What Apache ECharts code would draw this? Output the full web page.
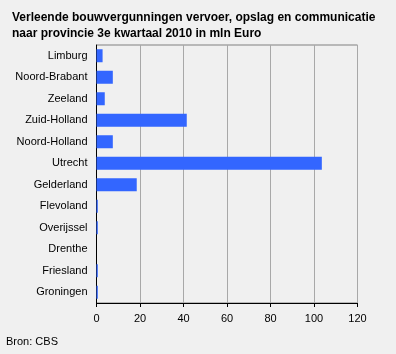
<!DOCTYPE html>
<html>
<head>
<meta charset="utf-8">
<script src="https://cdn.jsdelivr.net/npm/echarts@6/dist/echarts.min.js"></script>
<style>
  html, body { margin: 0; padding: 0; background: #f0f0f0; }
  #chart { width: 396px; height: 354px; }
</style>
</head>
<body>
<div id="chart"></div>
<script>
const provinces = ['Limburg', 'Noord-Brabant', 'Zeeland', 'Zuid-Holland', 'Noord-Holland', 'Utrecht',
  'Gelderland', 'Flevoland', 'Overijssel', 'Drenthe', 'Friesland', 'Groningen'];
const values = [2.8, 7.5, 3.8, 41.5, 7.5, 103.6, 18.5, 0.6, 0.6, 0, 0.6, 0.6];
const xTicks = [0, 20, 40, 60, 80, 100, 120];

const chart = echarts.init(document.getElementById('chart'), null, { renderer: 'canvas' });
const font = 'Arial, "Liberation Sans", sans-serif';

const option = {
  backgroundColor: '#f0f0f0',
  animation: false,
  title: {
    text: 'Verleende bouwvergunningen vervoer, opslag en communicatie\nnaar provincie 3e kwartaal 2010 in mln Euro',
    left: 7,
    top: 5,
    textStyle: { fontFamily: font, fontSize: 12, fontWeight: 'bold', color: '#000', lineHeight: 16 }
  },
  graphic: [{
    type: 'text',
    left: 6,
    top: 336,
    style: { text: 'Bron: CBS', font: '11px ' + font, fill: '#000' }
  }],
  grid: { left: 96.5, right: 38.5, top: 45, bottom: 51, show: true, borderColor: '#808080', borderWidth: 1 },
  xAxis: {
    type: 'value',
    min: xTicks[0],
    max: xTicks[xTicks.length - 1],
    interval: 20,
    axisLine: { show: true, lineStyle: { color: '#000' } },
    axisTick: { show: true, length: 4, lineStyle: { color: '#000' } },
    axisLabel: { color: '#000', fontFamily: font, fontSize: 11, margin: 10 },
    splitLine: { show: true, lineStyle: { color: '#a8a8a8' } }
  },
  yAxis: {
    type: 'category',
    inverse: true,
    data: provinces,
    axisLine: { show: true, lineStyle: { color: '#000' } },
    axisTick: { show: false },
    axisLabel: { color: '#000', fontFamily: font, fontSize: 11, margin: 9 },
    splitLine: { show: false }
  },
  series: [{
    type: 'bar',
    data: values,
    barWidth: 13,
    itemStyle: { color: '#3366ff' }
  }]
};

chart.setOption(option);
</script>
</body>
</html>
